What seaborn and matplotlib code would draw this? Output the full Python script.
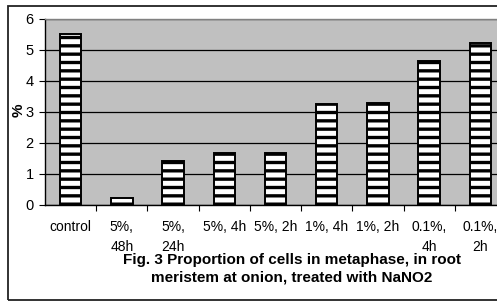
import matplotlib
matplotlib.use('Agg')
import matplotlib.pyplot as plt
import matplotlib.patches as mpatches
import seaborn as sns
import pandas as pd

# data
treatments = ['control', '5%,\n48h', '5%,\n24h', '5%, 4h', '5%, 2h',
              '1%, 4h', '1%, 2h', '0.1%,\n4h', '0.1%,\n2h']
metaphase_pct = [5.50, 0.22, 1.43, 1.67, 1.67, 3.25, 3.28, 4.65, 5.21]
y_ticks = [0, 1, 2, 3, 4, 5, 6]
title_text = ('Fig. 3 Proportion of cells in metaphase, in root\n'
              'meristem at onion, treated with NaNO2')

df = pd.DataFrame({'treatment': treatments, 'pct': metaphase_pct})

sns.set_style('white')
plt.rcParams['font.family'] = ['Liberation Sans', 'DejaVu Sans']
plt.rcParams['hatch.linewidth'] = 2.4
plt.rcParams['hatch.color'] = '#222222'

fig = plt.figure(figsize=(4.97, 3.01), dpi=100)
ax = fig.add_axes([0.0905, 0.319, 0.9276, 0.618])
ax.set_facecolor('#c0c0c0')

sns.barplot(data=df, x='treatment', y='pct', color='white', width=0.42,
            edgecolor='black', linewidth=1.4, saturation=1, ax=ax)
for bar in ax.patches:
    bar.set_hatch('--')
    bar.set_facecolor('white')

ax.set_ylim(0, 6)
ax.set_xlim(-0.5, len(treatments) - 0.5)
ax.set_yticks(y_ticks)
ax.yaxis.grid(True, color='black', linewidth=0.9)
ax.set_axisbelow(True)

ax.set_xlabel('')
ax.set_ylabel('%', fontsize=11, fontweight='bold', color='black')
ax.yaxis.set_label_coords(-0.042, 0.51)

# category boundary ticks below the axis
ax.set_xticks([i - 0.5 for i in range(1, len(treatments))], minor=True)
ax.tick_params(axis='x', which='minor', direction='out', length=4,
               width=0.8, color='black', bottom=True)
ax.tick_params(axis='x', which='major', length=0, pad=11, labelsize=10,
               labelcolor='black')
ax.tick_params(axis='y', direction='out', length=4, width=0.8,
               color='black', left=True, pad=4, labelsize=10.5,
               labelcolor='black')
for lbl in ax.get_xticklabels():
    lbl.set_linespacing(1.5)
    lbl.set_va('top')

for side in ['left', 'bottom']:
    ax.spines[side].set_color('black')
    ax.spines[side].set_linewidth(1.0)
ax.spines['top'].set_color('#808080')
ax.spines['top'].set_linewidth(1.0)
ax.spines['right'].set_visible(False)

fig.text(292 / 497, 0.108, title_text, ha='center', va='center',
         fontsize=11, fontweight='bold', linespacing=1.3, color='black')

# outer chart frame
frame = mpatches.Rectangle((8 / 497, 1.5 / 301), 1.2, 294 / 301,
                           transform=fig.transFigure, fill=False,
                           edgecolor='#222222', linewidth=1.3)
fig.patches.append(frame)

fig.savefig('out.png', dpi=100)
